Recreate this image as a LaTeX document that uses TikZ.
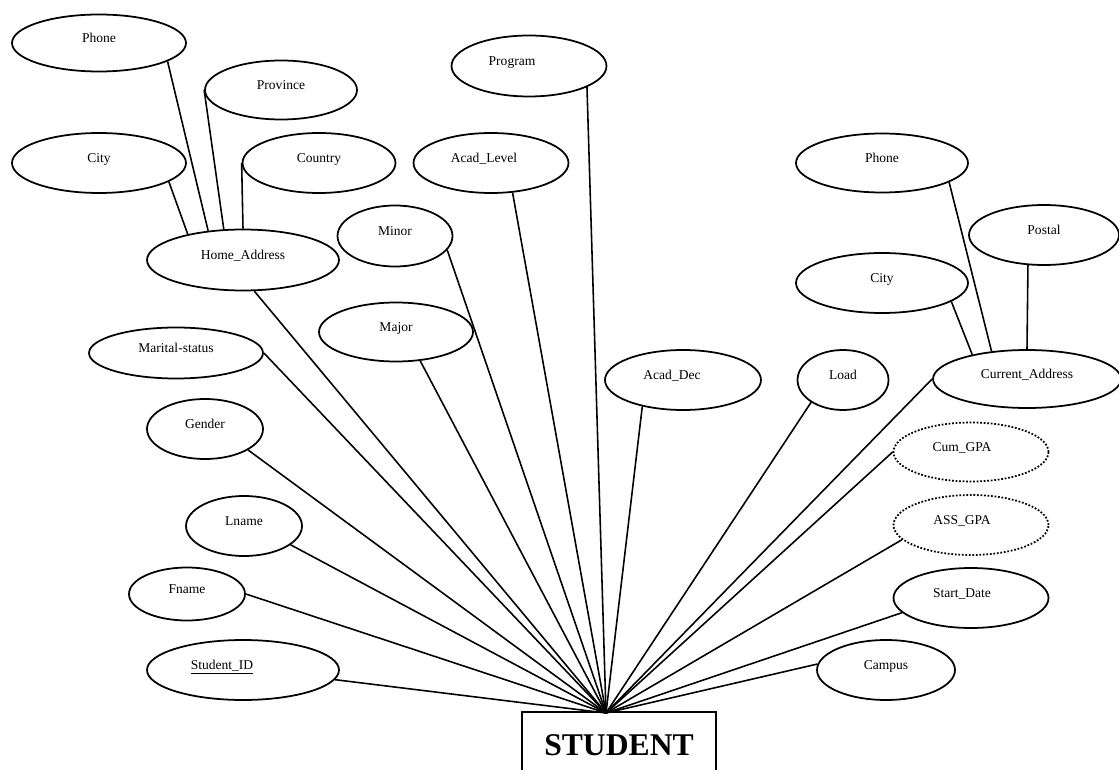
\documentclass[tikz,border=0pt]{standalone}
\usepackage{fontspec}
\setmainfont{Liberation Serif}
\usetikzlibrary{shapes.geometric}

\tikzset{
  attr/.style 2 args={ellipse, draw, line width=1pt, inner sep=0pt,
    minimum width=#1, minimum height=#2,
    text height=6pt, text depth=7pt, font=\fontsize{7.7}{9}\selectfont},
  derived/.style={densely dotted},
  entity/.style={draw, line width=0.8pt, minimum width=3.88cm, minimum height=1.32cm,
    font=\fontsize{18}{20}\selectfont\bfseries},
  link/.style={line width=0.9pt}
}

\begin{document}
\begin{tikzpicture}[x=0.02cm, y=-0.02cm]
  \clip (0,0) rectangle (1119,770);
  % Entity
  \node[entity] (student) at (619,745) {STUDENT};
  \coordinate (hub) at (606,713);
  % Home address and its parts
  \node[attr={3.84cm}{1.22cm}] (home) at (243,260) {Home\_Address};
  \node[attr={3.48cm}{1.14cm}] (phone1) at (99,43) {Phone};
  \node[attr={3.04cm}{1.18cm}] (province) at (281,90) {Province};
  \node[attr={3.48cm}{1.2cm}] (city1) at (99,163) {City};
  \node[attr={3.06cm}{1.2cm}] (country) at (319,163) {Country};
  % Left attributes
  \node[attr={3.1cm}{1.22cm}] (program) at (529,66) {Program\hspace*{0.68cm}};
  \node[attr={3.1cm}{1.2cm}] (acadlevel) at (491,163) {Acad\_Level\hspace*{0.28cm}};
  \node[attr={2.3cm}{1.22cm}] (minor) at (395,236) {Minor};
  \node[attr={3.08cm}{1.18cm}] (major) at (396,332) {Major};
  \node[attr={3.48cm}{1.02cm}] (marital) at (176,353) {Marital-status};
  \node[attr={2.32cm}{1.2cm}] (gender) at (205,429) {Gender};
  \node[attr={2.32cm}{1.2cm}] (lname) at (244,526) {Lname};
  \node[attr={2.32cm}{1.06cm}] (fname) at (187,594) {Fname};
  \node[attr={3.84cm}{1.2cm}] (sid) at (243,670) {\underline{Student\_ID}\hspace*{0.84cm}};
  % Right attributes
  \node[attr={3.12cm}{1.2cm}] (acaddec) at (683,380) {Acad\_Dec\hspace*{0.44cm}};
  \node[attr={1.82cm}{1.2cm}] (load) at (843,380) {Load};
  \node[attr={3.1cm}{1.18cm}, derived] (cumgpa) at (971,452) {Cum\_GPA\hspace*{0.36cm}};
  \node[attr={3.1cm}{1.2cm}, derived] (assgpa) at (971,525) {ASS\_GPA\hspace*{0.36cm}};
  \node[attr={3.1cm}{1.2cm}] (startdate) at (971,598) {Start\_Date\hspace*{0.36cm}};
  \node[attr={2.76cm}{1.2cm}] (campus) at (886,670) {Campus};
  % Current address and its parts
  \node[attr={3.76cm}{1.16cm}] (current) at (1027,379) {Current\_Address};
  \node[attr={3.44cm}{1.18cm}] (phone2) at (882,163) {Phone};
  \node[attr={3.0cm}{1.2cm}] (postal) at (1044,235) {Postal};
  \node[attr={3.44cm}{1.2cm}] (city2) at (882,283) {City};
  % Composite links
  \draw[link] (phone1.-15) -- (home.140);
  \draw[link] (province.west) -- (home.122);
  \draw[link] (country.west) -- (home.north);
  \draw[link] (city1.-15) -- (home.155);
  \draw[link] (phone2.-16) -- (current.142);
  \draw[link] (city2.-15) -- (current.156);
  \draw[link] (postal.242) -- (current.north);
  % Links to the entity
  \draw[link] (home.-70) -- (hub);
  \draw[link] (program.-20) -- (hub);
  \draw[link] (acadlevel.-54) -- (hub);
  \draw[link] (minor.-15) -- (hub);
  \draw[link] (major.-50) -- (hub);
  \draw[link] (marital.east) -- (hub);
  \draw[link] (gender.-26) -- (hub);
  \draw[link] (lname.-22) -- (hub);
  \draw[link] (fname.east) -- (hub);
  \draw[link] (sid.-6) -- (hub);
  \draw[link] (acaddec.213) -- (hub);
  \draw[link] (load.215) -- (hub);
  \draw[link] (current.west) -- (hub);
  \draw[link] (cumgpa.west) -- (hub);
  \draw[link] (assgpa.192) -- (hub);
  \draw[link] (startdate.192) -- (hub);
  \draw[link] (campus.175) -- (hub);
\end{tikzpicture}
\end{document}
